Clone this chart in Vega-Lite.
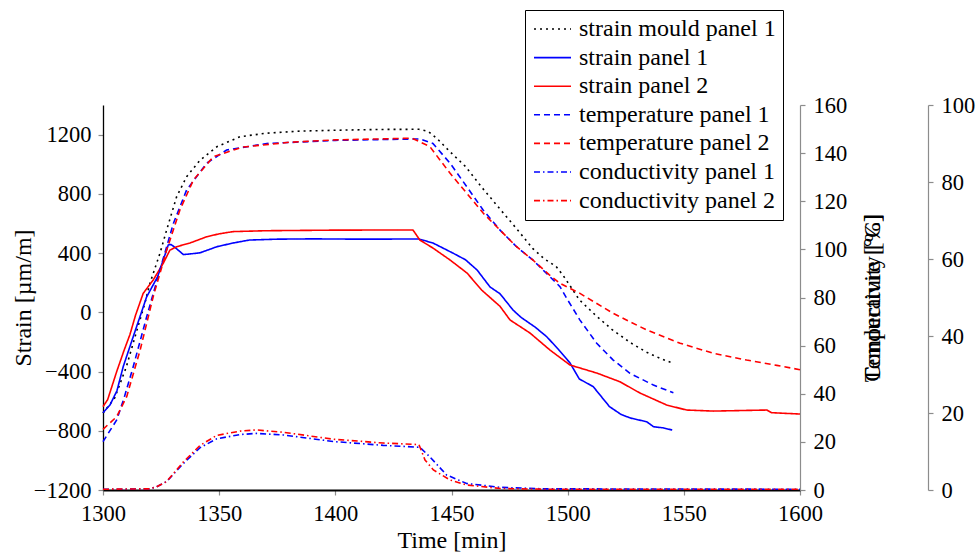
{
  "$schema": "https://vega.github.io/schema/vega-lite/v6.json",
  "width": 697,
  "height": 385,
  "autosize": "none",
  "padding": {"left": 103, "top": 105, "right": 177, "bottom": 65},
  "background": "white",
  "config": {
    "font": "Liberation Serif",
    "view": {"stroke": null},
    "axis": {
      "grid": false,
      "labelFont": "Liberation Serif",
      "labelFontSize": 22.5,
      "labelColor": "black",
      "labelFlush": false,
      "titleFont": "Liberation Serif",
      "titleFontSize": 24,
      "titleFontWeight": "normal",
      "titleColor": "black",
      "tickColor": "#8c8c8c",
      "tickSize": 5,
      "tickWidth": 1.2
    },
    "legend": {
      "labelFont": "Liberation Serif",
      "labelFontSize": 24,
      "labelColor": "black",
      "labelLimit": 0
    }
  },
  "datasets": {
    "strain": [
      {"series": "strain mould panel 1", "t": 1300, "v": -680},
      {"series": "strain mould panel 1", "t": 1305, "v": -580},
      {"series": "strain mould panel 1", "t": 1310, "v": -370},
      {"series": "strain mould panel 1", "t": 1315, "v": -100},
      {"series": "strain mould panel 1", "t": 1318, "v": 60},
      {"series": "strain mould panel 1", "t": 1320.2, "v": 196},
      {"series": "strain mould panel 1", "t": 1324.5, "v": 398},
      {"series": "strain mould panel 1", "t": 1327.4, "v": 556},
      {"series": "strain mould panel 1", "t": 1331.7, "v": 781},
      {"series": "strain mould panel 1", "t": 1336, "v": 916},
      {"series": "strain mould panel 1", "t": 1341.8, "v": 1028},
      {"series": "strain mould panel 1", "t": 1349, "v": 1118},
      {"series": "strain mould panel 1", "t": 1359, "v": 1186},
      {"series": "strain mould panel 1", "t": 1370, "v": 1209},
      {"series": "strain mould panel 1", "t": 1385, "v": 1224},
      {"series": "strain mould panel 1", "t": 1405, "v": 1231},
      {"series": "strain mould panel 1", "t": 1420, "v": 1235},
      {"series": "strain mould panel 1", "t": 1436, "v": 1236},
      {"series": "strain mould panel 1", "t": 1440, "v": 1222},
      {"series": "strain mould panel 1", "t": 1444, "v": 1170},
      {"series": "strain mould panel 1", "t": 1449, "v": 1090},
      {"series": "strain mould panel 1", "t": 1456, "v": 985},
      {"series": "strain mould panel 1", "t": 1463, "v": 845},
      {"series": "strain mould panel 1", "t": 1471, "v": 695},
      {"series": "strain mould panel 1", "t": 1478, "v": 565},
      {"series": "strain mould panel 1", "t": 1485, "v": 430},
      {"series": "strain mould panel 1", "t": 1490, "v": 360},
      {"series": "strain mould panel 1", "t": 1495, "v": 310},
      {"series": "strain mould panel 1", "t": 1498, "v": 250},
      {"series": "strain mould panel 1", "t": 1501, "v": 180},
      {"series": "strain mould panel 1", "t": 1505, "v": 85},
      {"series": "strain mould panel 1", "t": 1512, "v": -20},
      {"series": "strain mould panel 1", "t": 1519, "v": -115},
      {"series": "strain mould panel 1", "t": 1527, "v": -205},
      {"series": "strain mould panel 1", "t": 1534, "v": -270},
      {"series": "strain mould panel 1", "t": 1540, "v": -312},
      {"series": "strain mould panel 1", "t": 1545, "v": -342},

      {"series": "strain panel 1", "t": 1300, "v": -678},
      {"series": "strain panel 1", "t": 1303, "v": -626},
      {"series": "strain panel 1", "t": 1306, "v": -530},
      {"series": "strain panel 1", "t": 1308.7, "v": -367},
      {"series": "strain panel 1", "t": 1313, "v": -165},
      {"series": "strain panel 1", "t": 1318.8, "v": 105},
      {"series": "strain panel 1", "t": 1323.5, "v": 240},
      {"series": "strain panel 1", "t": 1328.1, "v": 455},
      {"series": "strain panel 1", "t": 1329.3, "v": 458},
      {"series": "strain panel 1", "t": 1331, "v": 438},
      {"series": "strain panel 1", "t": 1334.6, "v": 390},
      {"series": "strain panel 1", "t": 1338, "v": 395},
      {"series": "strain panel 1", "t": 1341.8, "v": 402},
      {"series": "strain panel 1", "t": 1345, "v": 420},
      {"series": "strain panel 1", "t": 1349, "v": 443},
      {"series": "strain panel 1", "t": 1356, "v": 468},
      {"series": "strain panel 1", "t": 1363, "v": 488},
      {"series": "strain panel 1", "t": 1375, "v": 494},
      {"series": "strain panel 1", "t": 1390, "v": 496},
      {"series": "strain panel 1", "t": 1410, "v": 494},
      {"series": "strain panel 1", "t": 1436, "v": 495},
      {"series": "strain panel 1", "t": 1442, "v": 468},
      {"series": "strain panel 1", "t": 1450.6, "v": 400},
      {"series": "strain panel 1", "t": 1456, "v": 355},
      {"series": "strain panel 1", "t": 1461, "v": 286},
      {"series": "strain panel 1", "t": 1466.6, "v": 171},
      {"series": "strain panel 1", "t": 1470.9, "v": 125},
      {"series": "strain panel 1", "t": 1476.5, "v": 15},
      {"series": "strain panel 1", "t": 1480, "v": -35},
      {"series": "strain panel 1", "t": 1486, "v": -100},
      {"series": "strain panel 1", "t": 1491, "v": -165},
      {"series": "strain panel 1", "t": 1496, "v": -250},
      {"series": "strain panel 1", "t": 1501, "v": -342},
      {"series": "strain panel 1", "t": 1505, "v": -450},
      {"series": "strain panel 1", "t": 1511, "v": -502},
      {"series": "strain panel 1", "t": 1518, "v": -637},
      {"series": "strain panel 1", "t": 1523, "v": -690},
      {"series": "strain panel 1", "t": 1527, "v": -714},
      {"series": "strain panel 1", "t": 1534, "v": -739},
      {"series": "strain panel 1", "t": 1537, "v": -773},
      {"series": "strain panel 1", "t": 1541, "v": -780},
      {"series": "strain panel 1", "t": 1545, "v": -795},

      {"series": "strain panel 2", "t": 1300, "v": -637},
      {"series": "strain panel 2", "t": 1302, "v": -590},
      {"series": "strain panel 2", "t": 1305.9, "v": -400},
      {"series": "strain panel 2", "t": 1309, "v": -260},
      {"series": "strain panel 2", "t": 1311.6, "v": -150},
      {"series": "strain panel 2", "t": 1314, "v": -20},
      {"series": "strain panel 2", "t": 1317.3, "v": 128},
      {"series": "strain panel 2", "t": 1321.6, "v": 218},
      {"series": "strain panel 2", "t": 1326, "v": 333},
      {"series": "strain panel 2", "t": 1328.8, "v": 420},
      {"series": "strain panel 2", "t": 1331.7, "v": 443},
      {"series": "strain panel 2", "t": 1337.4, "v": 468},
      {"series": "strain panel 2", "t": 1344.6, "v": 510},
      {"series": "strain panel 2", "t": 1350, "v": 530},
      {"series": "strain panel 2", "t": 1356, "v": 545},
      {"series": "strain panel 2", "t": 1370, "v": 551},
      {"series": "strain panel 2", "t": 1400, "v": 555},
      {"series": "strain panel 2", "t": 1433.4, "v": 556},
      {"series": "strain panel 2", "t": 1436.4, "v": 488},
      {"series": "strain panel 2", "t": 1442, "v": 434},
      {"series": "strain panel 2", "t": 1449.4, "v": 353},
      {"series": "strain panel 2", "t": 1456.7, "v": 265},
      {"series": "strain panel 2", "t": 1463, "v": 150},
      {"series": "strain panel 2", "t": 1470.9, "v": 40},
      {"series": "strain panel 2", "t": 1475.2, "v": -52},
      {"series": "strain panel 2", "t": 1483.8, "v": -140},
      {"series": "strain panel 2", "t": 1492.4, "v": -255},
      {"series": "strain panel 2", "t": 1501, "v": -356},
      {"series": "strain panel 2", "t": 1512.5, "v": -410},
      {"series": "strain panel 2", "t": 1522.5, "v": -469},
      {"series": "strain panel 2", "t": 1531.1, "v": -545},
      {"series": "strain panel 2", "t": 1542.6, "v": -626},
      {"series": "strain panel 2", "t": 1551.2, "v": -660},
      {"series": "strain panel 2", "t": 1562.6, "v": -667},
      {"series": "strain panel 2", "t": 1585.7, "v": -660},
      {"series": "strain panel 2", "t": 1587.8, "v": -678},
      {"series": "strain panel 2", "t": 1600, "v": -687}
    ],
    "temperature": [
      {"series": "temperature panel 1", "t": 1300, "v": 20.1},
      {"series": "temperature panel 1", "t": 1305.9, "v": 29.1},
      {"series": "temperature panel 1", "t": 1309, "v": 38},
      {"series": "temperature panel 1", "t": 1313, "v": 51.2},
      {"series": "temperature panel 1", "t": 1318.8, "v": 72},
      {"series": "temperature panel 1", "t": 1324.5, "v": 91.4},
      {"series": "temperature panel 1", "t": 1330.3, "v": 110.8},
      {"series": "temperature panel 1", "t": 1336, "v": 124.7},
      {"series": "temperature panel 1", "t": 1344.6, "v": 135.8},
      {"series": "temperature panel 1", "t": 1353.2, "v": 141.3},
      {"series": "temperature panel 1", "t": 1370.5, "v": 144},
      {"series": "temperature panel 1", "t": 1400, "v": 145.3},
      {"series": "temperature panel 1", "t": 1436.4, "v": 145.9},
      {"series": "temperature panel 1", "t": 1442, "v": 144},
      {"series": "temperature panel 1", "t": 1449.4, "v": 135.8},
      {"series": "temperature panel 1", "t": 1456.6, "v": 126},
      {"series": "temperature panel 1", "t": 1463.6, "v": 116.4},
      {"series": "temperature panel 1", "t": 1470.9, "v": 108},
      {"series": "temperature panel 1", "t": 1478, "v": 101.1},
      {"series": "temperature panel 1", "t": 1485, "v": 95.6},
      {"series": "temperature panel 1", "t": 1492.4, "v": 88.6},
      {"series": "temperature panel 1", "t": 1496.7, "v": 84.5},
      {"series": "temperature panel 1", "t": 1500, "v": 79},
      {"series": "temperature panel 1", "t": 1505.3, "v": 70.6},
      {"series": "temperature panel 1", "t": 1512.5, "v": 61},
      {"series": "temperature panel 1", "t": 1519.6, "v": 54},
      {"series": "temperature panel 1", "t": 1526.8, "v": 48.5},
      {"series": "temperature panel 1", "t": 1536.9, "v": 43.6},
      {"series": "temperature panel 1", "t": 1545.5, "v": 40.4},

      {"series": "temperature panel 2", "t": 1300, "v": 25.2},
      {"series": "temperature panel 2", "t": 1305.9, "v": 30.5},
      {"series": "temperature panel 2", "t": 1310.2, "v": 38.8},
      {"series": "temperature panel 2", "t": 1316, "v": 58.2},
      {"series": "temperature panel 2", "t": 1321.6, "v": 80.3},
      {"series": "temperature panel 2", "t": 1327.4, "v": 99.7},
      {"series": "temperature panel 2", "t": 1333.1, "v": 116.4},
      {"series": "temperature panel 2", "t": 1338.9, "v": 128.8},
      {"series": "temperature panel 2", "t": 1347.5, "v": 138.5},
      {"series": "temperature panel 2", "t": 1360, "v": 142.5},
      {"series": "temperature panel 2", "t": 1380, "v": 144.5},
      {"series": "temperature panel 2", "t": 1400, "v": 145.5},
      {"series": "temperature panel 2", "t": 1433, "v": 146.2},
      {"series": "temperature panel 2", "t": 1440.7, "v": 142.7},
      {"series": "temperature panel 2", "t": 1449.4, "v": 131.6},
      {"series": "temperature panel 2", "t": 1456.6, "v": 123.3},
      {"series": "temperature panel 2", "t": 1463.7, "v": 115},
      {"series": "temperature panel 2", "t": 1470.9, "v": 108},
      {"series": "temperature panel 2", "t": 1478, "v": 101.1},
      {"series": "temperature panel 2", "t": 1485, "v": 95.6},
      {"series": "temperature panel 2", "t": 1492, "v": 89.5},
      {"series": "temperature panel 2", "t": 1496.7, "v": 85.9},
      {"series": "temperature panel 2", "t": 1505.3, "v": 81.7},
      {"series": "temperature panel 2", "t": 1519.6, "v": 73.4},
      {"series": "temperature panel 2", "t": 1534, "v": 66.5},
      {"series": "temperature panel 2", "t": 1548.4, "v": 61},
      {"series": "temperature panel 2", "t": 1562.7, "v": 56.8},
      {"series": "temperature panel 2", "t": 1577, "v": 54},
      {"series": "temperature panel 2", "t": 1590, "v": 51.8},
      {"series": "temperature panel 2", "t": 1600, "v": 50}
    ],
    "conductivity": [
      {"series": "conductivity panel 1", "t": 1300, "v": 0.2},
      {"series": "conductivity panel 1", "t": 1310, "v": 0.2},
      {"series": "conductivity panel 1", "t": 1320, "v": 0.3},
      {"series": "conductivity panel 1", "t": 1323, "v": 0.8},
      {"series": "conductivity panel 1", "t": 1327.4, "v": 2.2},
      {"series": "conductivity panel 1", "t": 1334.6, "v": 6.9},
      {"series": "conductivity panel 1", "t": 1341.8, "v": 11},
      {"series": "conductivity panel 1", "t": 1349, "v": 13.3},
      {"series": "conductivity panel 1", "t": 1359, "v": 14.4},
      {"series": "conductivity panel 1", "t": 1366, "v": 14.7},
      {"series": "conductivity panel 1", "t": 1377.6, "v": 14.3},
      {"series": "conductivity panel 1", "t": 1399, "v": 12.6},
      {"series": "conductivity panel 1", "t": 1420.6, "v": 11.6},
      {"series": "conductivity panel 1", "t": 1436.4, "v": 11.1},
      {"series": "conductivity panel 1", "t": 1440.7, "v": 8.6},
      {"series": "conductivity panel 1", "t": 1447.9, "v": 3.9},
      {"series": "conductivity panel 1", "t": 1456.5, "v": 1.7},
      {"series": "conductivity panel 1", "t": 1470.9, "v": 0.7},
      {"series": "conductivity panel 1", "t": 1490, "v": 0.3},
      {"series": "conductivity panel 1", "t": 1600, "v": 0.2},

      {"series": "conductivity panel 2", "t": 1300, "v": 0.2},
      {"series": "conductivity panel 2", "t": 1320, "v": 0.3},
      {"series": "conductivity panel 2", "t": 1323, "v": 0.8},
      {"series": "conductivity panel 2", "t": 1327.4, "v": 2.2},
      {"series": "conductivity panel 2", "t": 1334.6, "v": 7.3},
      {"series": "conductivity panel 2", "t": 1341.8, "v": 11.6},
      {"series": "conductivity panel 2", "t": 1349, "v": 14.2},
      {"series": "conductivity panel 2", "t": 1359, "v": 15.3},
      {"series": "conductivity panel 2", "t": 1366, "v": 15.6},
      {"series": "conductivity panel 2", "t": 1377.6, "v": 15},
      {"series": "conductivity panel 2", "t": 1399, "v": 13.2},
      {"series": "conductivity panel 2", "t": 1420.6, "v": 12.2},
      {"series": "conductivity panel 2", "t": 1436, "v": 11.8},
      {"series": "conductivity panel 2", "t": 1438.6, "v": 7.8},
      {"series": "conductivity panel 2", "t": 1442.2, "v": 5.2},
      {"series": "conductivity panel 2", "t": 1449.4, "v": 2.6},
      {"series": "conductivity panel 2", "t": 1456.5, "v": 1.3},
      {"series": "conductivity panel 2", "t": 1471, "v": 0.4},
      {"series": "conductivity panel 2", "t": 1490, "v": 0.2},
      {"series": "conductivity panel 2", "t": 1600, "v": 0.2}
    ]
  },
  "layer": [
    {
      "data": {"name": "strain"},
      "mark": {"type": "line", "strokeWidth": 1.6, "strokeCap": "butt"},
      "encoding": {
        "x": {
          "field": "t", "type": "quantitative",
          "scale": {"domain": [1300, 1600], "nice": false, "zero": false},
          "axis": {
            "title": "Time [min]",
            "values": [1300, 1350, 1400, 1450, 1500, 1550, 1600],
            "format": "d",
            "domainColor": "black", "domainWidth": 2,
            "labelPadding": 7, "titlePadding": 4
          }
        },
        "y": {
          "field": "v", "type": "quantitative",
          "scale": {"domain": [-1200, 1400], "nice": false, "zero": false},
          "axis": {
            "orient": "left",
            "title": "Strain [µm/m]",
            "values": [-1200, -800, -400, 0, 400, 800, 1200],
            "labelExpr": "datum.value < 0 ? '\u2212' + format(-datum.value, 'd') : format(datum.value, 'd')",
            "domainColor": "black", "domainWidth": 1.3,
            "labelPadding": 7,
            "titleX": -80, "titleY": 192.5, "titleAngle": -90,
            "titleAlign": "center", "titleBaseline": "middle"
          }
        },
        "color": {
          "field": "series", "type": "nominal",
          "scale": {
            "domain": ["strain mould panel 1", "strain panel 1", "strain panel 2", "temperature panel 1", "temperature panel 2", "conductivity panel 1", "conductivity panel 2"],
            "range": ["#000000", "#0000ff", "#ff0000", "#0000ff", "#ff0000", "#0000ff", "#ff0000"]
          },
          "legend": {
            "title": null, "orient": "none", "legendX": 422, "legendY": -95,
            "direction": "vertical",
            "strokeColor": "black", "fillColor": "white", "padding": 7,
            "symbolType": "stroke", "symbolSize": 1369, "symbolStrokeWidth": 1.6, "symbolOffset": 1,
            "clipHeight": 24,
            "labelOffset": 7, "rowPadding": 4.6, "labelLimit": 0
          }
        },
        "strokeDash": {
          "field": "series", "type": "nominal",
          "scale": {
            "domain": ["strain mould panel 1", "strain panel 1", "strain panel 2", "temperature panel 1", "temperature panel 2", "conductivity panel 1", "conductivity panel 2"],
            "range": [[2, 4], [1, 0], [1, 0], [6, 4], [6, 4], [6, 3, 1.5, 3], [6, 3, 1.5, 3]]
          },
          "legend": {
            "title": null, "orient": "none", "legendX": 422, "legendY": -95,
            "direction": "vertical",
            "strokeColor": "black", "fillColor": "white", "padding": 7,
            "symbolType": "stroke", "symbolSize": 1369, "symbolStrokeWidth": 1.6, "symbolOffset": 1,
            "clipHeight": 24,
            "labelOffset": 7, "rowPadding": 4.6, "labelLimit": 0
          }
        }
      }
    },
    {
      "data": {"name": "temperature"},
      "mark": {"type": "line", "strokeWidth": 1.6, "strokeCap": "butt"},
      "encoding": {
        "x": {"field": "t", "type": "quantitative", "scale": {"domain": [1300, 1600], "nice": false, "zero": false}},
        "y": {
          "field": "v", "type": "quantitative",
          "scale": {"domain": [0, 160], "nice": false},
          "axis": {
            "orient": "right",
            "title": "Temperature [°C]",
            "values": [0, 20, 40, 60, 80, 100, 120, 140, 160],
            "domainColor": "#8c8c8c", "domainWidth": 1.2,
            "labelPadding": 8,
            "titleX": 72, "titleY": 192.5, "titleAngle": -90,
            "titleAlign": "center", "titleBaseline": "middle"
          }
        },
        "color": {"field": "series", "type": "nominal"},
        "strokeDash": {"field": "series", "type": "nominal"}
      }
    },
    {
      "data": {"name": "conductivity"},
      "mark": {"type": "line", "strokeWidth": 1.6, "strokeCap": "butt"},
      "encoding": {
        "x": {"field": "t", "type": "quantitative", "scale": {"domain": [1300, 1600], "nice": false, "zero": false}},
        "y": {
          "field": "v", "type": "quantitative",
          "scale": {"domain": [0, 100], "nice": false},
          "axis": {
            "orient": "right",
            "offset": 128,
            "title": "Conductivity [%]",
            "values": [0, 20, 40, 60, 80, 100],
            "domainColor": "#8c8c8c", "domainWidth": 1.2,
            "labelPadding": 8,
            "titleX": -56, "titleY": 192.5, "titleAngle": -90,
            "titleAlign": "center", "titleBaseline": "middle"
          }
        },
        "color": {"field": "series", "type": "nominal"},
        "strokeDash": {"field": "series", "type": "nominal"}
      }
    }
  ],
  "resolve": {"scale": {"y": "independent"}}
}
